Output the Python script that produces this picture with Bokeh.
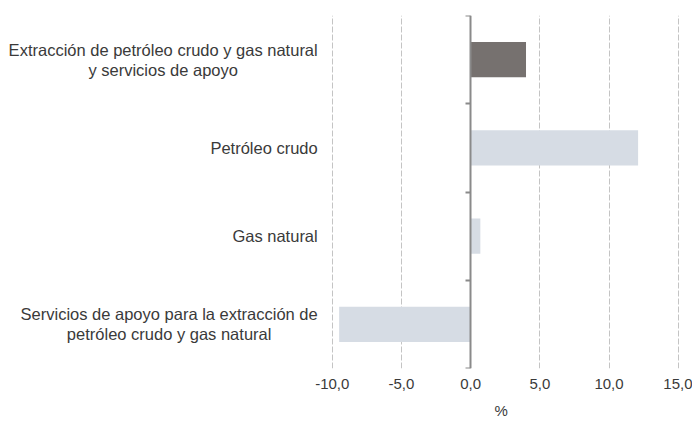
from bokeh.plotting import figure
from bokeh.models import Range1d, LinearAxis, FixedTicker, ColumnDataSource, Title
from bokeh.core.properties import value
from bokeh.embed import file_html
from bokeh.resources import INLINE

categories = [
    "Extracción de petróleo crudo y gas natural\ny servicios de apoyo",
    "Petróleo crudo",
    "Gas natural",
    "Servicios de apoyo para la extracción de\npetróleo crudo y gas natural",
]
values = [4.0, 12.1, 0.7, -9.5]
bar_colors = ["#76716f", "#d6dce4", "#d6dce4", "#d6dce4"]
tick_values = [-10, -5, 0, 5, 10, 15]
tick_labels = ["-10,0", "-5,0", "0,0", "5,0", "10,0", "15,0"]
x_label = "%"

FONT = "Liberation Sans"
TEXT_COLOR = "#3a3a3a"

n = len(categories)
ypos = [n - i - 0.5 for i in range(n)]  # band centres, first category on top

source = ColumnDataSource(data=dict(cat=categories, y=ypos, val=values, color=bar_colors,
                                    zero=[0] * n, lx=[-11.05] * n))

p = figure(width=692, height=426, output_backend="svg", toolbar_location=None,
           y_range=Range1d(0, n), x_range=Range1d(-33.97, 16.03), y_axis_location=None,
           min_border_left=0, min_border_right=0, min_border_top=15, min_border_bottom=0)
p.outline_line_color = None
p.background_fill_color = "white"
p.ygrid.visible = False

p.hbar(y="y", left="zero", right="val", height=0.4, color="color", line_color=None, source=source)

p.text(x="lx", y="y", text="cat", source=source, anchor="center_right", text_align="center",
       text_baseline="middle", text_font=value(FONT), text_font_size="16.5px",
       text_color=TEXT_COLOR, text_line_height=1.1)

# x axis
xa = p.xaxis[0]
xa.ticker = FixedTicker(ticks=tick_values)
xa.major_label_overrides = {t: l for t, l in zip(tick_values, tick_labels)}
xa.axis_line_color = None
xa.major_tick_line_color = None
xa.minor_tick_line_color = None
xa.major_tick_out = 0
xa.major_tick_in = 0
xa.major_label_standoff = 10
xa.major_label_text_font = FONT
xa.major_label_text_font_size = "15px"
xa.major_label_text_color = TEXT_COLOR

p.xgrid.grid_line_color = "#c4c4c4"
p.xgrid.grid_line_dash = "6 2"
p.xgrid.grid_line_width = 1

# vertical axis at zero with ticks at band boundaries (no labels)
ya = LinearAxis(ticker=FixedTicker(ticks=list(range(n + 1))), fixed_location=0)
ya.axis_line_color = "#8a8a8a"
ya.axis_line_width = 2
ya.major_tick_line_color = "#8a8a8a"
ya.major_tick_line_width = 2
ya.major_tick_out = 5
ya.major_tick_in = 0
ya.minor_tick_line_color = None
ya.major_label_overrides = {i: "" for i in range(n + 1)}
ya.major_label_standoff = 0
p.add_layout(ya, "left")

t = Title(text=x_label, align="left", offset=494, text_font=FONT, text_font_size="15px",
          text_font_style="normal", text_color=TEXT_COLOR, standoff=16)
p.add_layout(t, "below")

open("out.html", "w").write(file_html(p, INLINE))
